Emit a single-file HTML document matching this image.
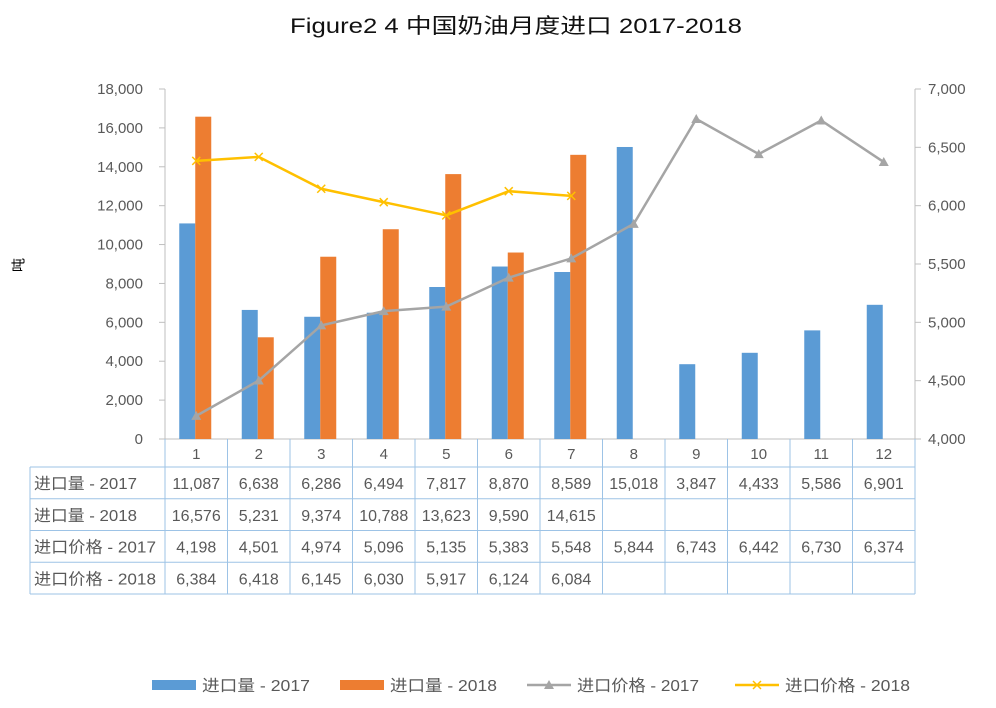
<!DOCTYPE html>
<html><head><meta charset="utf-8"><style>
body{margin:0;background:#fff}
svg{display:block;font-family:"Liberation Sans","Noto Sans CJK SC",sans-serif}
</style></head><body>
<svg id="c" width="996" height="708" viewBox="0 0 996 708">
<text x="290" y="33" font-size="21" fill="#111" textLength="452" lengthAdjust="spacingAndGlyphs">Figure2 4 中国奶油月度进口 2017-2018</text>
<text x="20" y="265" font-size="14" fill="#000" transform="rotate(-90 20 265)" text-anchor="middle" dominant-baseline="middle">吨</text>
<g id="g"></g>
</svg>
<script>
const categories=['1','2','3','4','5','6','7','8','9','10','11','12'];
const vol2017=[11087,6638,6286,6494,7817,8870,8589,15018,3847,4433,5586,6901];
const vol2018=[16576,5231,9374,10788,13623,9590,14615,null,null,null,null,null];
const price2017=[4198,4501,4974,5096,5135,5383,5548,5844,6743,6442,6730,6374];
const price2018=[6384,6418,6145,6030,5917,6124,6084,null,null,null,null,null];
const leftTicks=[0,2000,4000,6000,8000,10000,12000,14000,16000,18000];
const rightTicks=[4000,4500,5000,5500,6000,6500,7000];
const rowLabels=['进口量 - 2017','进口量 - 2018','进口价格 - 2017','进口价格 - 2018'];

const NS='http://www.w3.org/2000/svg',g=document.getElementById('g');
const L=165,R=915,T=89,B=439,cw=(R-L)/categories.length;
const yL=v=>B-(v/18000)*(B-T);
const yR=v=>B-((v-4000)/3000)*(B-T);
const xC=i=>L+cw*(i+0.5);
const fmt=v=>v==null?'':v.toLocaleString('en-US');
function el(t,a,p){const e=document.createElementNS(NS,t);for(const k in a)e.setAttribute(k,a[k]);(p||g).appendChild(e);return e;}
function txt(x,y,s,a){const e=el('text',Object.assign({x:x,y:y,'font-size':15,fill:'#595959'},a||{}));e.textContent=s;return e;}
leftTicks.forEach(v=>{const t=txt(143,yL(v)+5,fmt(v),{'text-anchor':'end'});


el('line',{x1:L-6,x2:L,y1:yL(v),y2:yL(v),stroke:'#bfbfbf'});});
rightTicks.forEach(v=>{const t=txt(928,yR(v)+5,fmt(v));


el('line',{x1:R,x2:R+6,y1:yR(v),y2:yR(v),stroke:'#bfbfbf'});});
el('line',{x1:L,x2:L,y1:T,y2:B,stroke:'#bfbfbf'});
el('line',{x1:R,x2:R,y1:T,y2:B,stroke:'#bfbfbf'});
el('line',{x1:L,x2:R,y1:B,y2:B,stroke:'#bfbfbf'});
categories.forEach((c,i)=>{
 const v1=vol2017[i];
 const b=el('rect',{x:xC(i)-17,y:yL(v1),width:16,height:B-yL(v1),fill:'#5b9bd5'});
 
 
 const v2=vol2018[i];
 if(v2!=null){const o=el('rect',{x:xC(i)-1,y:yL(v2),width:16,height:B-yL(v2),fill:'#ed7d31'});
 
 }
});
function line(arr,color,name,marker){
 const pts=[];arr.forEach((v,i)=>{if(v!=null)pts.push([xC(i),yR(v)]);});
 const p=el('polyline',{points:pts.map(q=>q.join(',')).join(' '),fill:'none',stroke:color,'stroke-width':2.5});
 
 
 pts.forEach(q=>{
  if(marker==='tri')el('polygon',{points:`${q[0]},${q[1]-5} ${q[0]-5},${q[1]+4} ${q[0]+5},${q[1]+4}`,fill:color});
  else{el('line',{x1:q[0]-4,y1:q[1]-4,x2:q[0]+4,y2:q[1]+4,stroke:color,'stroke-width':1.5});el('line',{x1:q[0]+4,y1:q[1]-4,x2:q[0]-4,y2:q[1]+4,stroke:color,'stroke-width':1.5});}
 });
}
line(price2017,'#a5a5a5','price-2017-line','tri');
line(price2018,'#ffc000','price-2018-line','x');
// table
const tc='#9dc3e6',rowTop=467,rh=31.75,tL=30;
categories.forEach((c,i)=>{const t=txt(xC(i),459,c,{'text-anchor':'middle'});

});
for(let i=0;i<=categories.length;i++)el('line',{x1:L+cw*i,x2:L+cw*i,y1:B,y2:rowTop+rh*4,stroke:tc});
el('line',{x1:tL,x2:tL,y1:rowTop,y2:rowTop+rh*4,stroke:tc});
for(let r=0;r<=4;r++)el('line',{x1:tL,x2:R,y1:rowTop+rh*r,y2:rowTop+rh*r,stroke:tc});
const rows=[vol2017,vol2018,price2017,price2018];
const rowLen=[103,103,122,122];
rows.forEach((arr,r)=>{
 const y=rowTop+rh*r+22;
 const lb=txt(34,y,rowLabels[r],{'font-size':16,textLength:rowLen[r],lengthAdjust:'spacingAndGlyphs'});
 
 
 arr.forEach((v,i)=>{const t=txt(xC(i),y,fmt(v),{'text-anchor':'middle','font-size':16});
 
 });
});
// legend
const lg=[['#5b9bd5','rect',152,108],['#ed7d31','rect',340,107],['#a5a5a5','tri',527,122],['#ffc000','x',735,125]];
const lgText=['进口量 - 2017','进口量 - 2018','进口价格 - 2017','进口价格 - 2018'];
lg.forEach((d,k)=>{
 const x=d[2],y=685,w=44;
 if(d[1]==='rect')el('rect',{x:x,y:y-5,width:w,height:10,fill:d[0]});
 else{el('line',{x1:x,x2:x+w,y1:y,y2:y,stroke:d[0],'stroke-width':2.5});
  if(d[1]==='tri')el('polygon',{points:`${x+22},${y-5} ${x+17},${y+4} ${x+27},${y+4}`,fill:d[0]});
  else{el('line',{x1:x+18,y1:y-4,x2:x+26,y2:y+4,stroke:d[0],'stroke-width':1.5});el('line',{x1:x+26,y1:y-4,x2:x+18,y2:y+4,stroke:d[0],'stroke-width':1.5});}}
 const t=txt(x+w+6,y+6,lgText[k],{'font-size':16,textLength:d[3],lengthAdjust:'spacingAndGlyphs'});
 
 
});
</script>
</body></html>
